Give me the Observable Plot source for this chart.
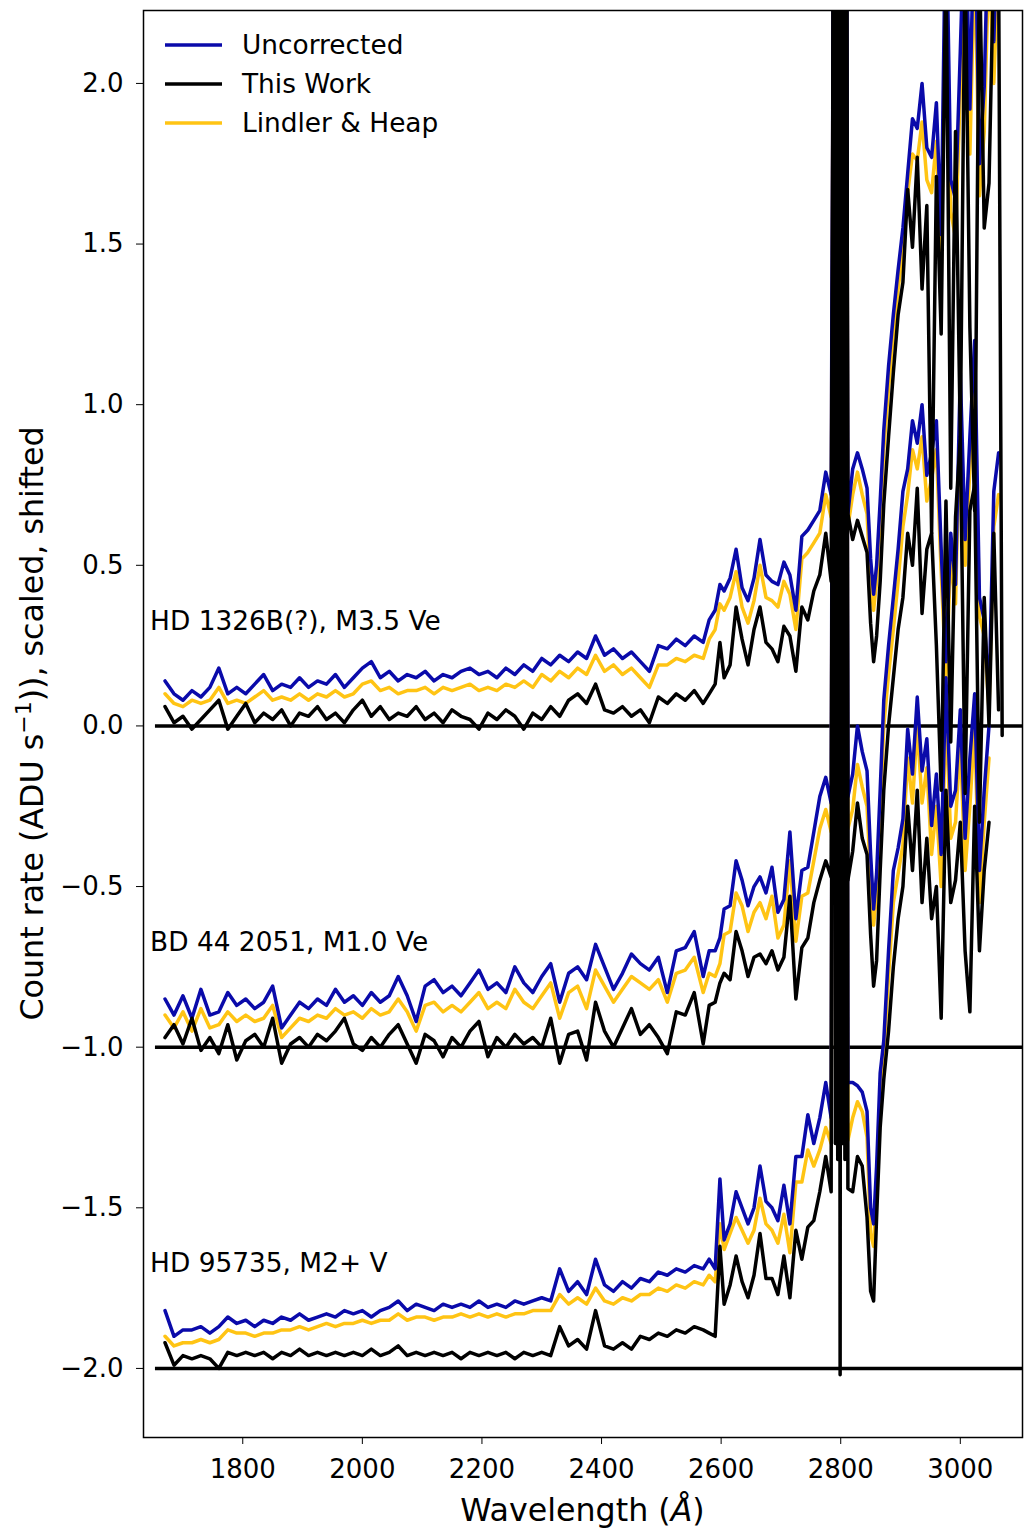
<!DOCTYPE html>
<html><head><meta charset="utf-8">
<script src="https://cdn.jsdelivr.net/npm/d3@7"></script>
<script src="https://cdn.jsdelivr.net/npm/@observablehq/plot@0.6"></script>
<style>body{margin:0;background:#fff;}</style>
</head><body><div id="chart"></div>
<script>
// Wavelength grid (Å)
const wavelength = [
1670,1685,1700,1715,1730,1745,1760,1775,1790,1805,
1820,1835,1850,1865,1880,1895,1910,1925,1940,1955,
1970,1985,2000,2015,2030,2045,2060,2075,2090,2105,
2120,2135,2150,2165,2180,2195,2210,2225,2240,2255,
2270,2285,2300,2315,2330,2345,2360,2375,2390,2405,
2420,2435,2450,2465,2480,2495,2510,2525,2540,2555,
2570,
2580,2590,2598,2605,2615,2625,2635,2645,2655,2665,
2675,2685,2695,2705,2715,2725,2735,2745,2755,2765,
2775,2784,2789,2791,2793,2795,2797,2799,2801,2803,2805,2807,2809,2812,
2820,2828,2836,2844,2850,2855,2860,2866,2872,2880,
2888,2896,2904,2912,2920,2928,2936,2944,2952,2960,
2968,2976,2984,2992,3000,3008,3016,3024,3032,3040,
3048,3056,3064,3070];

// HD 1326B(?) (shift 0)
const hd1326Uncorrected = [
0.14,0.10,0.08,0.11,0.09,0.12,0.18,0.10,0.12,0.10,
0.13,0.16,0.11,0.13,0.12,0.15,0.12,0.14,0.13,0.16,
0.12,0.15,0.18,0.20,0.15,0.17,0.14,0.16,0.15,0.17,
0.14,0.16,0.15,0.17,0.18,0.16,0.17,0.15,0.18,0.16,
0.19,0.17,0.21,0.19,0.22,0.20,0.23,0.21,0.28,0.22,
0.24,0.21,0.23,0.20,0.17,0.25,0.24,0.27,0.25,0.28,
0.26,
0.33,0.36,0.44,0.42,0.46,0.55,0.43,0.39,0.46,0.58,
0.47,0.45,0.44,0.51,0.47,0.36,0.59,0.61,0.64,0.67,
0.79,0.72,3,5,3,5,3,5,3,5,3,5,3,0.66,
0.80,0.85,0.80,0.74,0.52,0.41,0.50,0.70,0.92,1.12,
1.28,1.42,1.55,1.72,1.89,1.86,2.00,1.80,1.77,1.94,
1.53,2.6,1.70,1.64,2.10,2.6,1.92,2.6,1.75,1.99,
2.6,2.13,2.6,null];
const hd1326ThisWork = [
0.06,0.01,0.03,-0.01,0.02,0.05,0.08,-0.01,0.03,0.07,
0.01,0.04,0.02,0.05,0.00,0.04,0.03,0.06,0.02,0.04,
0.01,0.05,0.08,0.03,0.06,0.02,0.04,0.03,0.06,0.02,
0.04,0.01,0.05,0.03,0.02,-0.01,0.04,0.02,0.05,0.03,
-0.01,0.04,0.02,0.06,0.03,0.08,0.10,0.07,0.13,0.05,
0.04,0.06,0.03,0.05,0.01,0.09,0.07,0.10,0.08,0.11,
0.07,
0.10,0.13,0.26,0.15,0.19,0.37,0.27,0.19,0.30,0.37,
0.26,0.24,0.20,0.31,0.28,0.17,0.37,0.33,0.42,0.47,
0.60,0.45,3,5,3,5,3,5,3,5,3,5,3,0.66,
0.58,0.64,0.59,0.54,0.32,0.20,0.28,0.45,0.69,0.90,
1.10,1.28,1.38,1.67,1.49,1.77,1.36,1.62,0.60,1.71,
1.22,2.4,0.74,1.85,0.90,2.4,1.24,0.67,2.4,1.55,
1.69,2.4,2.4,-0.03];
const hd1326Lindler = [
0.10,0.07,0.06,0.08,0.07,0.08,0.12,0.07,0.08,0.07,
0.09,0.11,0.08,0.09,0.08,0.10,0.08,0.10,0.09,0.11,
0.09,0.10,0.13,0.14,0.11,0.12,0.10,0.11,0.11,0.12,
0.10,0.12,0.11,0.12,0.13,0.11,0.12,0.11,0.13,0.12,
0.14,0.12,0.16,0.14,0.17,0.15,0.18,0.16,0.22,0.17,
0.19,0.16,0.18,0.15,0.12,0.19,0.19,0.21,0.20,0.22,
0.21,
0.27,0.30,0.38,0.36,0.40,0.48,0.37,0.32,0.39,0.50,
0.40,0.39,0.37,0.45,0.41,0.30,0.52,0.54,0.57,0.60,
0.72,0.65,3,5,3,5,3,5,3,5,3,5,3,0.62,
0.72,0.79,0.72,0.66,0.44,0.36,0.45,0.64,0.86,1.05,
1.22,1.36,1.48,1.66,1.78,1.76,1.88,1.70,1.66,1.82,
1.40,2.4,1.60,1.52,1.98,2.4,1.78,2.4,1.65,1.85,
2.4,2.0,2.4,null];

// BD 44 2051 (shift -1)
const bd44Uncorrected = [
-0.85,-0.90,-0.84,-0.91,-0.82,-0.90,-0.89,-0.83,-0.87,-0.85,
-0.88,-0.86,-0.81,-0.94,-0.90,-0.86,-0.88,-0.85,-0.87,-0.82,
-0.86,-0.84,-0.87,-0.83,-0.86,-0.84,-0.78,-0.84,-0.92,-0.81,
-0.79,-0.83,-0.81,-0.84,-0.80,-0.76,-0.82,-0.80,-0.83,-0.75,
-0.80,-0.83,-0.78,-0.74,-0.86,-0.77,-0.75,-0.79,-0.68,-0.75,
-0.82,-0.77,-0.71,-0.74,-0.76,-0.72,-0.83,-0.70,-0.69,-0.64,
-0.78,
-0.70,-0.70,-0.66,-0.57,-0.56,-0.42,-0.48,-0.56,-0.50,-0.47,
-0.52,-0.44,-0.58,-0.54,-0.33,-0.60,-0.45,-0.44,-0.33,-0.22,
-0.16,-0.24,3,5,3,5,3,5,3,5,3,5,3,-0.22,
-0.15,0.0,-0.08,-0.14,-0.40,-0.57,-0.46,-0.20,0.08,0.25,
0.40,0.55,0.73,0.80,0.95,0.88,1.0,0.78,0.85,0.95,
0.55,0.2,0.6,0.44,1.1,0.58,0.9,1.2,0.40,0.33,
0.09,0.73,0.85,null];
const bd44ThisWork = [
-0.97,-0.93,-0.99,-0.91,-1.01,-0.97,-1.02,-0.93,-1.04,-0.98,
-0.96,-1.00,-0.91,-1.05,-0.99,-0.97,-1.00,-0.96,-0.98,-0.95,
-0.91,-0.99,-1.01,-0.97,-1.00,-0.96,-0.93,-0.99,-1.05,-0.96,
-0.98,-1.03,-0.97,-1.00,-0.95,-0.92,-1.03,-0.97,-1.00,-0.96,
-0.99,-0.97,-1.00,-0.91,-1.05,-0.96,-0.95,-1.04,-0.86,-0.95,
-1.00,-0.94,-0.88,-0.96,-0.93,-0.97,-1.02,-0.89,-0.90,-0.83,
-0.99,
-0.87,-0.86,-0.80,-0.77,-0.79,-0.64,-0.70,-0.78,-0.72,-0.71,
-0.74,-0.70,-0.76,-0.72,-0.53,-0.85,-0.69,-0.66,-0.55,-0.48,
-0.42,-0.47,3,5,3,5,3,5,3,5,3,5,3,-0.48,
-0.39,-0.24,-0.35,-0.40,-0.65,-0.81,-0.73,-0.45,-0.20,0.0,
0.15,0.30,0.40,0.60,0.50,0.74,0.35,0.55,0.60,0.25,
-0.20,0.70,-0.05,0.65,0.90,-0.21,0.67,0.75,-0.30,0.40,
0.0,0.6,0.05,null];
const bd44Lindler = [
-0.90,-0.94,-0.89,-0.95,-0.88,-0.94,-0.93,-0.89,-0.92,-0.90,
-0.92,-0.91,-0.87,-0.97,-0.94,-0.91,-0.92,-0.90,-0.91,-0.88,
-0.90,-0.89,-0.91,-0.88,-0.90,-0.89,-0.85,-0.89,-0.95,-0.87,
-0.86,-0.89,-0.87,-0.89,-0.86,-0.83,-0.88,-0.86,-0.88,-0.82,
-0.86,-0.88,-0.84,-0.80,-0.91,-0.83,-0.81,-0.88,-0.76,-0.81,
-0.86,-0.82,-0.78,-0.80,-0.82,-0.79,-0.86,-0.77,-0.76,-0.72,
-0.83,
-0.77,-0.78,-0.74,-0.65,-0.64,-0.52,-0.56,-0.64,-0.58,-0.55,
-0.60,-0.53,-0.66,-0.62,-0.42,-0.67,-0.53,-0.52,-0.42,-0.32,
-0.26,-0.33,3,5,3,5,3,5,3,5,3,5,3,-0.32,
-0.26,-0.12,-0.19,-0.25,-0.48,-0.62,-0.52,-0.28,0.0,0.16,
0.30,0.45,0.62,0.72,0.86,0.80,0.90,0.70,0.77,0.86,
0.48,0.15,0.52,0.38,1.0,0.50,0.80,1.1,0.34,0.28,
0.05,0.62,0.72,null];

// HD 95735 (shift -2)
const hd95735Uncorrected = [
-1.82,-1.90,-1.88,-1.88,-1.87,-1.89,-1.87,-1.84,-1.86,-1.85,
-1.87,-1.85,-1.86,-1.84,-1.85,-1.83,-1.85,-1.84,-1.83,-1.84,
-1.82,-1.83,-1.82,-1.84,-1.82,-1.81,-1.79,-1.82,-1.80,-1.81,
-1.82,-1.80,-1.81,-1.80,-1.81,-1.79,-1.81,-1.80,-1.81,-1.79,
-1.80,-1.79,-1.78,-1.79,-1.69,-1.76,-1.73,-1.77,-1.66,-1.74,
-1.76,-1.73,-1.75,-1.72,-1.73,-1.70,-1.71,-1.69,-1.70,-1.68,
-1.69,
-1.66,-1.69,-1.41,-1.60,-1.55,-1.45,-1.50,-1.55,-1.50,-1.37,
-1.48,-1.50,-1.54,-1.43,-1.55,-1.34,-1.34,-1.21,-1.30,-1.22,
-1.11,-1.22,3,5,3,5,3,5,3,5,3,5,3,-1.11,
-1.11,-1.12,-1.14,-1.20,-1.50,-1.55,-1.37,-1.08,-0.98,-0.70,
-0.45,-0.38,-0.29,-0.01,-0.15,0.09,-0.14,-0.04,-0.31,-0.15,
-0.40,0.15,-0.25,-0.20,0.05,-0.35,-0.10,0.10,-0.45,-0.20,
0.0,null,null,null];
const hd95735ThisWork = [
-1.92,-1.99,-1.96,-1.97,-1.96,-1.97,-2.00,-1.95,-1.96,-1.95,
-1.96,-1.95,-1.97,-1.95,-1.96,-1.94,-1.96,-1.95,-1.96,-1.95,
-1.96,-1.95,-1.96,-1.94,-1.96,-1.95,-1.93,-1.96,-1.95,-1.96,
-1.95,-1.96,-1.95,-1.97,-1.95,-1.96,-1.95,-1.96,-1.95,-1.97,
-1.95,-1.96,-1.95,-1.96,-1.87,-1.93,-1.91,-1.94,-1.82,-1.93,
-1.94,-1.92,-1.94,-1.90,-1.91,-1.89,-1.90,-1.88,-1.89,-1.87,
-1.88,
-1.89,-1.90,-1.62,-1.80,-1.74,-1.65,-1.73,-1.78,-1.71,-1.58,
-1.72,-1.72,-1.77,-1.65,-1.78,-1.57,-1.66,-1.56,-1.54,-1.45,
-1.34,-1.45,4,-1.30,4,-1.35,4,-2.02,4,-1.30,4,-1.35,4,-1.44,
-1.45,-1.34,-1.37,-1.53,-1.76,-1.79,-1.53,-1.25,-1.10,-0.95,
-0.75,-0.60,-0.50,-0.25,-0.45,-0.20,-0.55,-0.35,-0.60,-0.50,
-0.91,-0.20,-0.55,-0.48,-0.30,-0.70,-0.89,-0.25,-0.70,-0.45,
-0.30,null,null,null];
const hd95735Lindler = [
-1.90,-1.93,-1.92,-1.92,-1.91,-1.92,-1.91,-1.88,-1.89,-1.89,
-1.90,-1.89,-1.89,-1.88,-1.88,-1.87,-1.88,-1.87,-1.86,-1.87,
-1.86,-1.86,-1.85,-1.86,-1.85,-1.85,-1.83,-1.85,-1.84,-1.84,
-1.85,-1.84,-1.84,-1.83,-1.84,-1.83,-1.84,-1.83,-1.84,-1.83,
-1.83,-1.82,-1.82,-1.82,-1.77,-1.80,-1.78,-1.80,-1.75,-1.79,
-1.80,-1.78,-1.79,-1.77,-1.77,-1.75,-1.76,-1.74,-1.75,-1.73,
-1.74,
-1.71,-1.73,-1.55,-1.63,-1.58,-1.53,-1.57,-1.61,-1.57,-1.47,
-1.55,-1.57,-1.61,-1.52,-1.64,-1.42,-1.42,-1.32,-1.37,-1.32,
-1.25,-1.30,3,5,3,5,3,5,3,5,3,5,3,-1.29,
-1.22,-1.17,-1.20,-1.28,-1.58,-1.62,-1.45,-1.15,-1.02,-0.78,
-0.55,-0.46,-0.37,-0.10,-0.24,0.0,-0.24,-0.13,-0.40,-0.25,
-0.50,0.05,-0.35,-0.30,-0.05,-0.45,-0.25,0.0,-0.55,-0.30,
-0.10,null,null,null];

const starNames = ["HD 1326B(?), M3.5 Ve", "BD 44 2051, M1.0 Ve", "HD 95735, M2+ V"];
const starShifts = [0, -1, -2];
const seriesNames = ["Uncorrected", "This Work", "Lindler & Heap"];
const seriesColors = ["#0a0aaa", "#000000", "#ffc414"];
const xTicks = [1800, 2000, 2200, 2400, 2600, 2800, 3000];
const yTicks = [-2, -1.5, -1, -0.5, 0, 0.5, 1, 1.5, 2];

// drawing order: Lindler & Heap (bottom), Uncorrected, This Work (top)
const spectra = [
  [0, 2, hd1326Lindler], [1, 2, bd44Lindler], [2, 2, hd95735Lindler],
  [0, 0, hd1326Uncorrected], [1, 0, bd44Uncorrected], [2, 0, hd95735Uncorrected],
  [0, 1, hd1326ThisWork], [1, 1, bd44ThisWork], [2, 1, hd95735ThisWork]
];
const rows = spectra.flatMap(([s, k, vals]) => vals.map((v, i) => ({
  wl: wavelength[i], v: v, key: s + "-" + k, series: seriesNames[k]
})));
const labels = starNames.map((name, i) => ({name, shift: starShifts[i]}));

const fmt = d => (d < 0 ? "\u2212" : "") + Math.abs(d).toFixed(1);

const plot = Plot.plot({
  width: 1024, height: 1532,
  marginLeft: 143, marginRight: 2, marginTop: 10, marginBottom: 95,
  style: {fontFamily: "DejaVu Sans", fontSize: "26px", background: "white", color: "black"},
  x: {domain: [1634, 3104]},
  y: {domain: [-2.215, 2.227]},
  color: {domain: seriesNames, range: seriesColors},
  marks: [
    Plot.ruleY(starShifts, {y: d => d, x1: 1654, x2: 3200, stroke: "black", strokeWidth: 3.5, clip: true}),
    Plot.line(rows, {x: "wl", y: "v", z: "key", stroke: "series", strokeWidth: 3.5, strokeLinejoin: "round", clip: true}),
    Plot.text(labels, {x: 1645, y: d => d.shift + 0.3, text: "name", textAnchor: "start", lineAnchor: "bottom", fontSize: 26.4, fill: "black"}),
    Plot.frame({stroke: "black", strokeWidth: 1.5}),
    Plot.axisX({ticks: xTicks, tickSize: 7, tickPadding: 15, label: null, tickFormat: d => String(d)}),
    Plot.axisY({ticks: yTicks, tickSize: 7, tickPadding: 13, label: null, tickFormat: fmt})
  ]
});

const svg = d3.select(plot);
// y-axis label
const yl = svg.append("text")
  .attr("transform", "translate(43,723.5) rotate(-90)")
  .attr("text-anchor", "middle")
  .style("font-size", "31.7px").style("font-family", "DejaVu Sans").attr("fill", "black");
yl.append("tspan").text("Count rate (ADU s");
yl.append("tspan").attr("dy", -12).style("font-size", "22px").text("\u22121");
yl.append("tspan").attr("dy", 12).text(")), scaled, shifted");
// x-axis label
const xl = svg.append("text")
  .attr("x", 582.5).attr("y", 1521)
  .attr("text-anchor", "middle")
  .style("font-size", "31.7px").style("font-family", "DejaVu Sans").attr("fill", "black");
xl.append("tspan").text("Wavelength (");
xl.append("tspan").style("font-style", "italic").text("\u00C5");
xl.append("tspan").text(")");
// legend
const lg = svg.append("g");
seriesNames.forEach((name, i) => {
  const y = 45 + 39 * i;
  lg.append("line").attr("x1", 165).attr("x2", 222).attr("y1", y).attr("y2", y)
    .attr("stroke", seriesColors[i]).attr("stroke-width", 3.5);
  lg.append("text").attr("x", 242).attr("y", y).attr("dy", "0.35em")
    .attr("text-anchor", "start")
    .style("font-size", "26.4px").style("font-family", "DejaVu Sans").attr("fill", "black").text(name);
});

document.getElementById("chart").appendChild(plot);
</script>
</body></html>
